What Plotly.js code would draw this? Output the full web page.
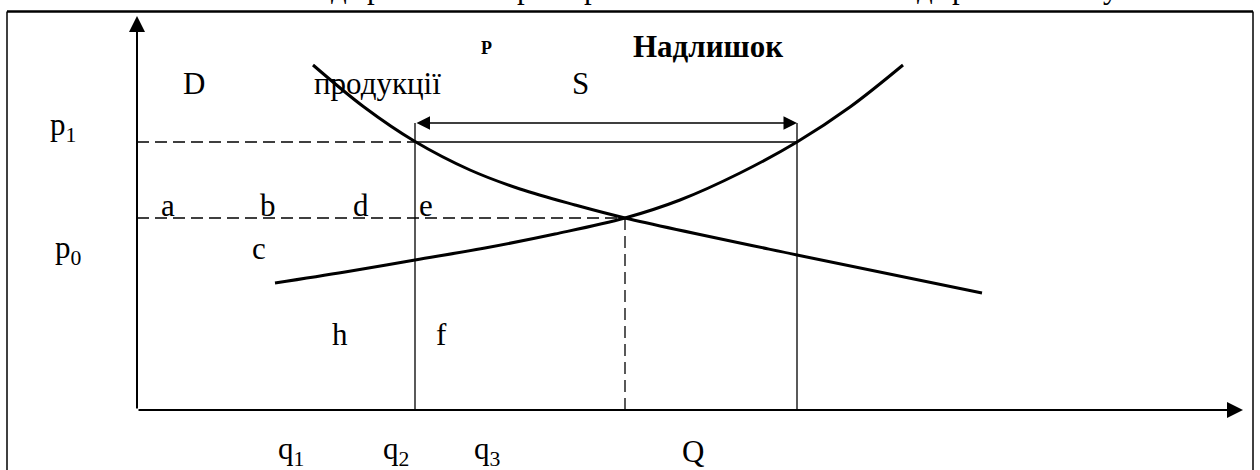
<!DOCTYPE html>
<html>
<head>
<meta charset="utf-8">
<script src="https://cdn.plot.ly/plotly-3.0.1.min.js"></script>
<style>
  html, body { margin: 0; padding: 0; background: #fff; }
</style>
</head>
<body>
<div id="chart" style="width:1260px;height:470px;"></div>
<script>
// demand curve D (falling)
var demandQ = [17.6, 22.7, 27.8, 33.3, 38.3, 43.8, 48.8, 66.0, 84.5];
var demandP = [34.5, 30.3, 26.85, 24.0, 22.1, 20.5, 19.2, 15.5, 11.7];
// supply curve S (rising)
var supplyQ = [13.8, 20.8, 27.8, 34.8, 41.8, 48.8, 54.3, 60.3, 66.0, 71.3, 76.6];
var supplyP = [12.7, 13.8, 15.0, 16.2, 17.6, 19.2, 21.0, 23.7, 26.8, 30.3, 34.5];

// key levels
var qSurplusLeft = 27.8;
var qEquil = 48.8;
var qSurplusRight = 66.0;
var pHigh = 26.8;   // p1
var pEquil = 19.2;  // p0
var pSurplusArrow = 28.7;
var qAxisMax = 110.6;
var pAxisMax = 39.4;

// pieces of the line above the frame, cut off by the page edge
var cutLetters = ["д", "р", "р", "р", "д", "р", "у"];
var cutLettersX = [339, 375, 525, 592, 925, 960, 1111];

var serif = "Liberation Serif, Times New Roman, serif";

function label(text, x, y, size, bold) {
  return {
    text: bold ? "<b>" + text + "</b>" : text,
    x: x,
    y: y,
    xref: "x",
    yref: "y",
    showarrow: false,
    xanchor: "center",
    yanchor: "middle",
    font: { family: serif, size: size || 31, color: "#000" },
  };
}

function arrow(x, y, ax, ay, width, size, both) {
  var a = {
    text: "",
    x: x,
    y: y,
    ax: ax,
    ay: ay,
    xref: "x",
    yref: "y",
    axref: "x",
    ayref: "y",
    showarrow: true,
    arrowhead: 2,
    arrowsize: size,
    arrowwidth: width,
    arrowcolor: "#000",
  };
  if (both) {
    a.arrowside = "end+start";
    a.startarrowhead = 2;
    a.startarrowsize = size;
  }
  return a;
}

function line(x0, y0, x1, y1, width, dash) {
  return {
    type: "line",
    xref: "x",
    yref: "y",
    x0: x0,
    y0: y0,
    x1: x1,
    y1: y1,
    line: { color: "#000", width: width, dash: dash || "solid" },
  };
}

var data = [
  {
    x: demandQ,
    y: demandP,
    mode: "lines",
    type: "scatter",
    line: { color: "#000", width: 3, shape: "spline", smoothing: 1 },
    hoverinfo: "skip",
  },
  {
    x: supplyQ,
    y: supplyP,
    mode: "lines",
    type: "scatter",
    line: { color: "#000", width: 3, shape: "spline", smoothing: 1 },
    hoverinfo: "skip",
  },
];

var shapes = [
  // outer frame
  line(-13.0, 39.85, 111.6, 39.85, 2.5),
  line(-13.0, 39.85, -13.0, -7, 1.5),
  line(111.6, 39.85, 111.6, -7, 1.5),
  // price levels
  line(0, pHigh, qSurplusLeft, pHigh, 1.3, "12px,6px"),
  line(qSurplusLeft, pHigh, qSurplusRight, pHigh, 1.3),
  line(0, pEquil, qEquil, pEquil, 1.3, "12px,6px"),
  // quantities
  line(qSurplusLeft, 0, qSurplusLeft, pSurplusArrow, 1.3),
  line(qSurplusRight, 0, qSurplusRight, pSurplusArrow, 1.3),
  line(qEquil, 0, qEquil, pEquil, 1.3, "12px,6px"),
];

var annotations = [
  arrow(0, pAxisMax, 0, 0, 2, 1.6),
  arrow(qAxisMax, 0, 0, 0, 2, 1.6),
  arrow(qSurplusRight, pSurplusArrow, qSurplusLeft, pSurplusArrow, 1.5, 1.8, true),
  label("p<sub>1</sub>", -7.4, 28.3),
  label("p<sub>0</sub>", -6.9, 16.0),
  label("D", 5.7, 32.7),
  label("продукції", 24.0, 32.7, 31),
  label("P", 34.9, 36.2, 18, true),
  label("Надлишок", 57.1, 36.4, 31, true),
  label("S", 44.3, 32.7),
  label("a", 3.1, 20.5),
  label("b", 13.1, 20.5),
  label("d", 22.4, 20.5),
  label("e", 28.9, 20.5),
  label("c", 12.2, 16.2),
  label("h", 20.3, 7.6),
  label("f", 30.4, 7.6),
  label("q<sub>1</sub>", 15.4, -4.05),
  label("q<sub>2</sub>", 25.9, -4.05),
  label("q<sub>3</sub>", 35.0, -4.05),
  label("Q", 55.6, -4.1),
];

for (var i = 0; i < cutLetters.length; i++) {
  annotations.push({
    text: cutLetters[i],
    x: cutLettersX[i] / 1260,
    y: 0.9855,
    xref: "paper",
    yref: "paper",
    showarrow: false,
    xanchor: "center",
    yanchor: "bottom",
    font: { family: serif, size: 31, color: "#000" },
  });
}

var layout = {
  width: 1260,
  height: 470,
  margin: { l: 0, r: 0, t: 0, b: 0, pad: 0 },
  paper_bgcolor: "#fff",
  plot_bgcolor: "#fff",
  showlegend: false,
  hovermode: false,
  xaxis: { range: [-13.7, 112.3], visible: false, fixedrange: true },
  yaxis: { range: [-6, 41], visible: false, fixedrange: true },
  shapes: shapes,
  annotations: annotations,
};

Plotly.newPlot("chart", data, layout, { staticPlot: true, displayModeBar: false });
</script>
</body>
</html>
